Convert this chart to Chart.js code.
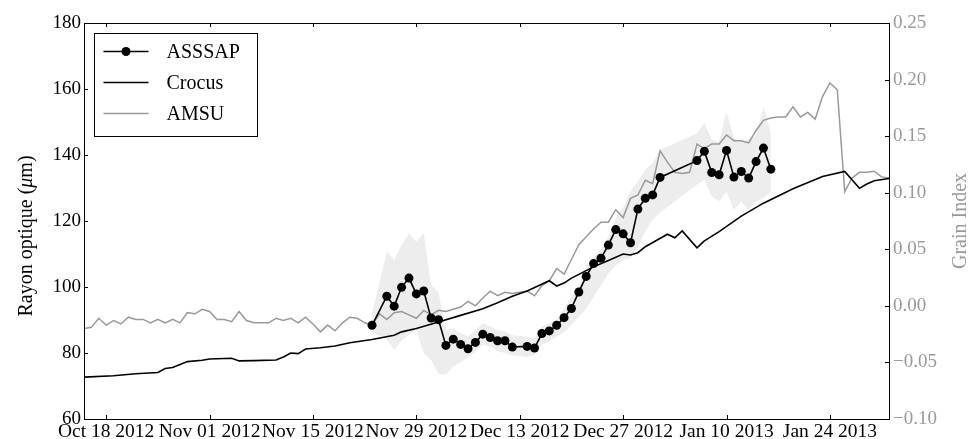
<!DOCTYPE html>
<html>
<head>
<meta charset="utf-8">
<script src="https://cdn.jsdelivr.net/npm/chart.js@4.4.0/dist/chart.umd.min.js"></script>
<style>
  html, body { margin: 0; padding: 0; background: #fff; }
  #wrap { width: 980px; height: 439px; }
</style>
</head>
<body>
<div id="wrap"><canvas id="chart" width="980" height="439"></canvas></div>
<script>
// x values are days counted from 18 Oct 2012
const dayTicks = [0, 14, 28, 42, 56, 70, 84, 98];
const dayTickLabels = ["Oct 18 2012", "Nov 01 2012", "Nov 15 2012", "Nov 29 2012",
  "Dec 13 2012", "Dec 27 2012", "Jan 10 2013", "Jan 24 2013"];
const radiusTicks = [60, 80, 100, 120, 140, 160, 180];
const grainTicks = [-0.10, -0.05, 0.00, 0.05, 0.10, 0.15, 0.20, 0.25];

// ASSSAP optical radius (um) with its spread
const asssapDays = [36, 38, 39, 40, 41, 42, 43, 44, 45, 46, 47, 48, 49, 50, 51, 52, 53, 54, 55,
  57, 58, 59, 60, 61, 62, 63, 64, 65, 66, 67, 68, 69, 70, 71, 72, 73, 74, 75,
  80, 81, 82, 83, 84, 85, 86, 87, 88, 89, 90];
const asssapRadius = [88.4, 97.2, 94.2, 99.9, 102.7, 97.9, 98.8, 90.6, 90.1, 82.3, 84.2, 82.6, 81.3, 83.2, 85.7, 84.7, 83.7, 83.7, 81.8,
  82.0, 81.5, 85.9, 86.7, 88.4, 90.7, 93.5, 98.5, 103.2, 107.1, 108.7, 112.7, 117.4, 116.1, 113.4, 123.6, 126.9, 127.9, 133.2,
  138.3, 141.1, 134.7, 134.0, 141.4, 133.3, 135.0, 133.0, 138.0, 142.1, 135.7];
const asssapLow = [86.0, 84.4, 80.8, 83.8, 85.5, 86.9, 80.0, 77.8, 73.7, 73.5, 75.8, 77.3, 78.5, 80.5, 82.5, 82.0, 80.5, 80.0, 79.3,
  78.8, 79.5, 82.5, 83.5, 85.0, 86.4, 88.5, 91.0, 93.5, 97.0, 100.5, 104.0, 106.5, 108.2, 108.7, 112.0, 117.0, 120.3, 122.5,
  131.0, 132.5, 127.4, 126.0, 128.9, 123.3, 125.9, 123.3, 125.9, 127.0, 128.9];
const asssapHigh = [92.0, 110.7, 108.2, 112.7, 116.3, 113.7, 116.4, 100.6, 98.5, 86.9, 87.5, 86.0, 85.0, 87.0, 89.0, 88.0, 87.0, 86.5, 85.4,
  85.0, 84.4, 88.0, 89.0, 90.0, 93.5, 97.0, 100.0, 106.0, 109.0, 111.5, 115.2, 121.0, 124.0, 129.0, 132.0, 135.5, 137.5, 141.6,
  146.5, 149.7, 144.6, 144.0, 153.2, 145.1, 144.1, 144.6, 146.0, 154.7, 146.6];

// Crocus optical radius (um)
const crocusDays = [-3, 1, 4, 7, 8, 9, 10, 11, 13, 14, 17, 18, 20, 23, 24, 25, 26, 27, 29, 31, 33, 36, 39, 40, 42,
  45, 48, 51, 53, 55, 57, 60, 61, 62, 63, 66, 68, 70, 71, 72, 73, 76, 77, 78, 80, 81, 83, 86, 89, 93, 97, 100,
  102, 103, 104, 106];
const crocusRadius = [72.7, 73.1, 73.7, 74.1, 75.3, 75.6, 76.5, 77.4, 77.8, 78.2, 78.4, 77.6, 77.7, 77.9, 78.8, 80.0, 79.8, 81.2, 81.6, 82.1, 83.1, 84.1, 85.4, 86.4, 87.4,
  89.4, 91.4, 93.4, 95.2, 97.2, 98.8, 101.9, 100.3, 101.2, 102.7, 106.1, 108.0, 110.0, 109.7, 110.4, 112.2, 116.0, 114.9, 117.0, 111.9, 114.0, 116.8, 121.5, 125.4, 129.8, 133.5, 135.0,
  129.9, 131.2, 132.2, 132.9];

// AMSU grain index, one value per day starting at day -3
const amsuFirstDay = -3;
const amsuGrain = [
  -0.020, -0.019, -0.011, -0.017, -0.013, -0.016, -0.010, -0.012, -0.012, -0.015,
  -0.012, -0.015, -0.012, -0.015, -0.006, -0.007, -0.003, -0.005, -0.012, -0.012,
  -0.014, -0.005, -0.013, -0.015, -0.015, -0.015, -0.011, -0.013, -0.011, -0.015,
  -0.010, -0.016, -0.023, -0.017, -0.022, -0.015, -0.010, -0.011, -0.015, -0.017,
  -0.007, -0.012, -0.006, -0.005, -0.008, -0.011, -0.004, -0.008, -0.004, -0.005,
  -0.003, -0.001, 0.004, 0.000, 0.007, 0.013, 0.009, 0.012, 0.011, 0.012,
  0.013, 0.009, 0.018, 0.022, 0.033, 0.028, 0.041, 0.054, 0.061, 0.068,
  0.074, 0.074, 0.085, 0.078, 0.095, 0.098, 0.111, 0.108, 0.137, 0.127,
  0.118, 0.117, 0.118, 0.143, 0.139, 0.143, 0.143, 0.151, 0.146, 0.146,
  0.144, 0.155, 0.164, 0.166, 0.167, 0.167, 0.176, 0.167, 0.171, 0.165,
  0.185, 0.197, 0.191, 0.101, 0.113, 0.118, 0.118, 0.119, 0.114, 0.113
];

const SERIF = "'Liberation Serif', 'DejaVu Serif', serif";
const GREY = "#999999";

const pts = (xs, ys) => xs.map((x, i) => ({ x: x, y: ys[i] }));

// inward ticks, frame, axis titles and legend box
const decorations = {
  id: "decorations",
  afterDraw(chart) {
    const ctx = chart.ctx;
    const a = chart.chartArea;
    const sx = chart.scales.x, sy = chart.scales.y, sy1 = chart.scales.y1;
    const tl = 4;
    ctx.save();
    ctx.strokeStyle = "#000";
    ctx.lineWidth = 1;
    ctx.beginPath();
    dayTicks.forEach(d => {
      const px = Math.round(sx.getPixelForValue(d)) + 0.5;
      ctx.moveTo(px, a.bottom); ctx.lineTo(px, a.bottom - tl);
      ctx.moveTo(px, a.top); ctx.lineTo(px, a.top + tl);
    });
    radiusTicks.forEach(v => {
      const py = Math.round(sy.getPixelForValue(v)) + 0.5;
      ctx.moveTo(a.left, py); ctx.lineTo(a.left + tl, py);
    });
    grainTicks.forEach(v => {
      const py = Math.round(sy1.getPixelForValue(v)) + 0.5;
      ctx.moveTo(a.right, py); ctx.lineTo(a.right - tl, py);
    });
    ctx.stroke();
    ctx.strokeRect(Math.round(a.left) + 0.5, Math.round(a.top) + 0.5,
      Math.round(a.right - a.left), Math.round(a.bottom - a.top));

    // axis titles
    const cy = (a.top + a.bottom) / 2;
    drawVertical(ctx, [["Rayon optique (", "normal"], ["\u03bc", "italic"], ["m)", "normal"]], 27, cy + 15, "#000");
    drawVertical(ctx, [["Grain Index", "normal"]], 961, cy, GREY);

    // legend
    const lx = a.left + 10.5, ly = a.top + 10.5;
    ctx.fillStyle = "#fff";
    ctx.fillRect(lx, ly, 163, 103);
    ctx.strokeStyle = "#000";
    ctx.strokeRect(lx, ly, 163, 103);
    const rows = [
      { label: "ASSSAP", color: "#000", marker: true, y: ly + 18 },
      { label: "Crocus", color: "#000", marker: false, y: ly + 49 },
      { label: "AMSU", color: GREY, marker: false, y: ly + 80 }
    ];
    ctx.font = "20px " + SERIF;
    ctx.textBaseline = "middle";
    rows.forEach(r => {
      ctx.strokeStyle = r.color;
      ctx.lineWidth = 1.5;
      ctx.beginPath();
      ctx.moveTo(lx + 9, r.y); ctx.lineTo(lx + 54, r.y);
      ctx.stroke();
      if (r.marker) {
        ctx.fillStyle = r.color;
        ctx.beginPath();
        ctx.arc(lx + 31.5, r.y, 4.5, 0, Math.PI * 2);
        ctx.fill();
      }
      ctx.fillStyle = "#000";
      ctx.fillText(r.label, lx + 72, r.y + 1);
    });
    ctx.restore();
  }
};

function drawVertical(ctx, parts, cx, cy, color) {
  ctx.save();
  ctx.translate(cx, cy);
  ctx.rotate(-Math.PI / 2);
  ctx.fillStyle = color;
  ctx.textBaseline = "middle";
  ctx.textAlign = "left";
  let total = 0;
  parts.forEach(p => { ctx.font = p[1] + " 20px " + SERIF; total += ctx.measureText(p[0]).width; });
  let x = -total / 2;
  parts.forEach(p => {
    ctx.font = p[1] + " 20px " + SERIF;
    ctx.fillText(p[0], x, 0);
    x += ctx.measureText(p[0]).width;
  });
  ctx.restore();
}

const minus = s => s.replace("-", "\u2212");

new Chart(document.getElementById("chart"), {
  type: "line",
  data: {
    datasets: [
      {
        label: "spread low",
        data: pts(asssapDays, asssapLow),
        borderColor: "rgba(0,0,0,0)",
        borderWidth: 0,
        pointRadius: 0,
        fill: false,
        yAxisID: "y",
        order: 10
      },
      {
        label: "spread high",
        data: pts(asssapDays, asssapHigh),
        borderColor: "rgba(0,0,0,0)",
        borderWidth: 0,
        pointRadius: 0,
        backgroundColor: "#ededed",
        fill: "-1",
        yAxisID: "y",
        order: 10
      },
      {
        label: "AMSU",
        data: amsuGrain.map((g, i) => ({ x: amsuFirstDay + i, y: g })),
        borderColor: GREY,
        borderWidth: 1.5,
        pointRadius: 0,
        yAxisID: "y1",
        order: 3
      },
      {
        label: "Crocus",
        data: pts(crocusDays, crocusRadius),
        borderColor: "#000",
        borderWidth: 1.6,
        pointRadius: 0,
        yAxisID: "y",
        order: 2
      },
      {
        label: "ASSSAP",
        data: pts(asssapDays, asssapRadius),
        borderColor: "#000",
        borderWidth: 1.6,
        pointRadius: 4.5,
        pointBackgroundColor: "#000",
        pointBorderWidth: 0,
        yAxisID: "y",
        order: 1
      }
    ]
  },
  options: {
    responsive: false,
    animation: false,
    devicePixelRatio: 1,
    events: [],
    layout: { padding: { top: 23, left: 0, right: 0, bottom: 0 } },
    elements: { line: { tension: 0 } },
    plugins: {
      legend: { display: false },
      tooltip: { enabled: false },
      filler: { propagate: false }
    },
    scales: {
      x: {
        type: "linear",
        min: -3,
        max: 106,
        grid: { display: false, drawTicks: false },
        border: { display: false },
        afterBuildTicks: s => { s.ticks = dayTicks.map(v => ({ value: v })); },
        afterFit: s => { s.height = 20; },
        ticks: {
          autoSkip: false,
          maxRotation: 0,
          padding: 1,
          color: "#000",
          font: { family: SERIF, size: 19.5 },
          callback: v => dayTickLabels[dayTicks.indexOf(v)]
        }
      },
      y: {
        position: "left",
        min: 60,
        max: 180,
        grid: { display: false, drawTicks: false },
        border: { display: false },
        afterBuildTicks: s => { s.ticks = radiusTicks.map(v => ({ value: v })); },
        afterFit: s => { s.width = 84; },
        ticks: {
          padding: 3,
          color: "#000",
          font: { family: SERIF, size: 19 },
          callback: v => String(v)
        }
      },
      y1: {
        position: "right",
        min: -0.10,
        max: 0.25,
        grid: { display: false, drawTicks: false },
        border: { display: false },
        afterBuildTicks: s => { s.ticks = grainTicks.map(v => ({ value: v })); },
        afterFit: s => { s.width = 91; },
        ticks: {
          padding: 4,
          color: GREY,
          font: { family: SERIF, size: 19 },
          callback: v => minus(v.toFixed(2))
        }
      }
    }
  },
  plugins: [decorations]
});
</script>
</body>
</html>
